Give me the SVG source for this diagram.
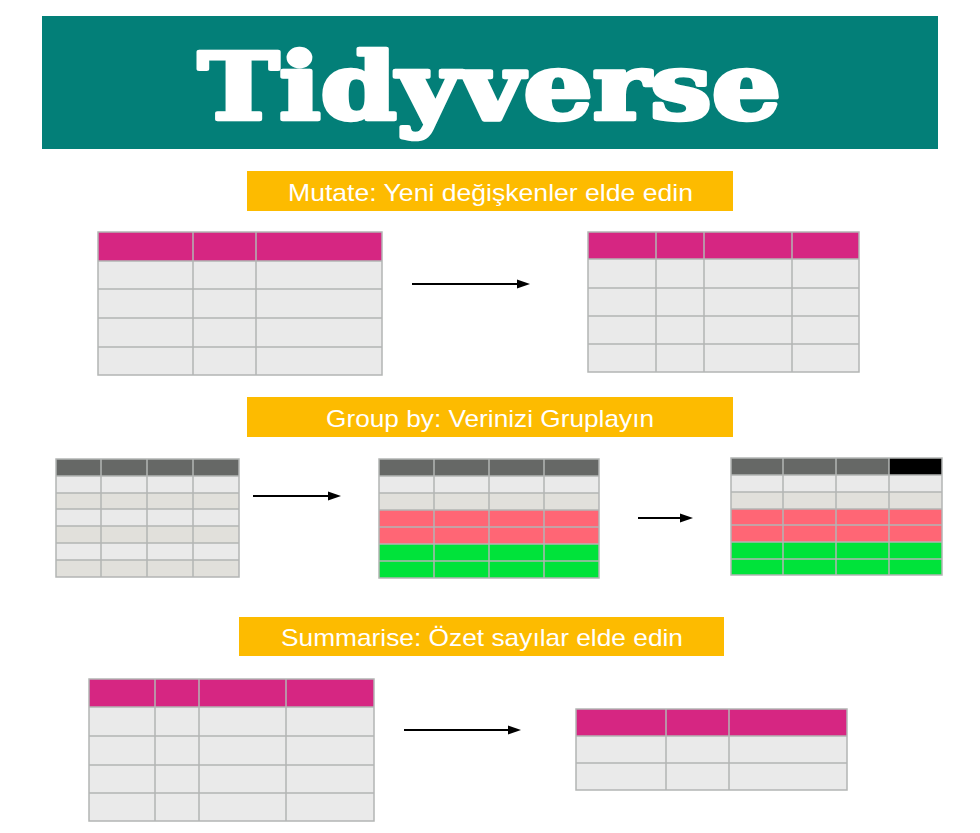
<svg xmlns="http://www.w3.org/2000/svg" width="980" height="833" viewBox="0 0 980 833">
  <style>
    .banner { fill: #037F78; }
    .title { font-family: "DejaVu Serif", "Liberation Serif", serif; font-weight: 900; font-size: 92px; fill: #FFFFFF; stroke: #FFFFFF; stroke-width: 4.5; stroke-linejoin: round; }
    .tag { fill: #FDBB00; }
    .tagtext { font-family: "Liberation Sans", Arial, sans-serif; font-size: 24px; fill: #FFFFFF; }
    .head { fill: #D62682; }
    .dark { fill: #666866; }
    .black { fill: #000000; }
    .cell { fill: #EAEAEA; }
    .beige { fill: #E1E0DB; }
    .pink { fill: #FF6675; }
    .green { fill: #00E33A; }
    .grid { stroke: #B3B5B4; stroke-width: 1.5; fill: none; }
    .arrow { stroke: #000000; stroke-width: 2; fill: none; marker-end: url(#head); }
  </style>
  <defs>
    <marker id="head" markerUnits="userSpaceOnUse" markerWidth="13" markerHeight="10" refX="0" refY="5" orient="auto">
      <path d="M0,0.5 L13,5 L0,9.5 Z" fill="#000000"/>
    </marker>
  </defs>

  <!-- title banner -->
  <g id="title">
    <rect class="banner" x="42" y="16" width="896" height="133"/>
    <text class="title" x="489.5" y="119" text-anchor="middle" textLength="583" lengthAdjust="spacingAndGlyphs">Tidyverse</text>
  </g>

  <!-- section labels -->
  <g id="label-mutate">
    <rect class="tag" x="247" y="171" width="486" height="40"/>
    <text class="tagtext" x="490.5" y="201" text-anchor="middle" textLength="405" lengthAdjust="spacingAndGlyphs">Mutate: Yeni değişkenler elde edin</text>
  </g>
  <g id="label-group">
    <rect class="tag" x="247" y="397" width="486" height="40"/>
    <text class="tagtext" x="490" y="427" text-anchor="middle" textLength="328" lengthAdjust="spacingAndGlyphs">Group by: Verinizi Gruplayın</text>
  </g>
  <g id="label-summarise">
    <rect class="tag" x="239" y="617" width="485" height="39"/>
    <text class="tagtext" x="482" y="646" text-anchor="middle" textLength="402" lengthAdjust="spacingAndGlyphs">Summarise: Özet sayılar elde edin</text>
  </g>

  <!-- mutate: input table -->
  <g id="mutate-in">
    <rect class="head" x="98" y="232" width="284" height="29"/>
    <rect class="cell" x="98" y="261" width="284" height="114"/>
    <path class="grid" d="M98,261H382M98,289H382M98,318H382M98,347H382M193,232V375M256,232V375"/>
    <rect class="grid" x="98" y="232" width="284" height="143"/>
  </g>

  <!-- mutate: output table with one extra column -->
  <g id="mutate-out">
    <rect class="head" x="588" y="232" width="271" height="27"/>
    <rect class="cell" x="588" y="259" width="271" height="113"/>
    <path class="grid" d="M588,259H859M588,288H859M588,316H859M588,344H859M656,232V372M704,232V372M792,232V372"/>
    <rect class="grid" x="588" y="232" width="271" height="140"/>
  </g>

  <!-- group by: ungrouped table -->
  <g id="group-in">
    <rect class="dark" x="56" y="459" width="183" height="17"/>
    <rect class="cell" x="56" y="476" width="183" height="17"/>
    <rect class="beige" x="56" y="493" width="183" height="16"/>
    <rect class="cell" x="56" y="509" width="183" height="17"/>
    <rect class="beige" x="56" y="526" width="183" height="17"/>
    <rect class="cell" x="56" y="543" width="183" height="17"/>
    <rect class="beige" x="56" y="560" width="183" height="17"/>
    <path class="grid" d="M56,476H239M56,493H239M56,509H239M56,526H239M56,543H239M56,560H239M101,459V577M147,459V577M193,459V577"/>
    <rect class="grid" x="56" y="459" width="183" height="118"/>
  </g>

  <!-- group by: rows sorted into groups -->
  <g id="group-sorted">
    <rect class="dark" x="379" y="459" width="220" height="17"/>
    <rect class="cell" x="379" y="476" width="220" height="17"/>
    <rect class="beige" x="379" y="493" width="220" height="17"/>
    <rect class="pink" x="379" y="510" width="220" height="34"/>
    <rect class="green" x="379" y="544" width="220" height="34"/>
    <path class="grid" d="M379,476H599M379,493H599M379,510H599M379,527H599M379,544H599M379,561H599M434,459V578M489,459V578M544,459V578"/>
    <rect class="grid" x="379" y="459" width="220" height="119"/>
  </g>

  <!-- group by: grouped table with group column -->
  <g id="group-out">
    <rect class="dark" x="731" y="458" width="211" height="17"/>
    <rect class="black" x="889" y="458" width="53" height="17"/>
    <rect class="cell" x="731" y="475" width="211" height="17"/>
    <rect class="beige" x="731" y="492" width="211" height="17"/>
    <rect class="pink" x="731" y="509" width="211" height="33"/>
    <rect class="green" x="731" y="542" width="211" height="33"/>
    <path class="grid" d="M731,475H942M731,492H942M731,509H942M731,525H942M731,542H942M731,559H942M783,458V575M836,458V575M889,458V575"/>
    <rect class="grid" x="731" y="458" width="211" height="117"/>
  </g>

  <!-- summarise: input table -->
  <g id="summarise-in">
    <rect class="head" x="89" y="679" width="285" height="28"/>
    <rect class="cell" x="89" y="707" width="285" height="114"/>
    <path class="grid" d="M89,707H374M89,736H374M89,765H374M89,793H374M155,679V821M199,679V821M286,679V821"/>
    <rect class="grid" x="89" y="679" width="285" height="142"/>
  </g>

  <!-- summarise: reduced table -->
  <g id="summarise-out">
    <rect class="head" x="576" y="709" width="271" height="27"/>
    <rect class="cell" x="576" y="736" width="271" height="54"/>
    <path class="grid" d="M576,736H847M576,763H847M666,709V790M729,709V790"/>
    <rect class="grid" x="576" y="709" width="271" height="81"/>
  </g>

  <!-- connectors -->
  <g id="connectors">
    <path class="arrow" d="M412,284H517"/>
    <path class="arrow" d="M253,496H328"/>
    <path class="arrow" d="M638,518H680"/>
    <path class="arrow" d="M404,730H508"/>
  </g>
</svg>
